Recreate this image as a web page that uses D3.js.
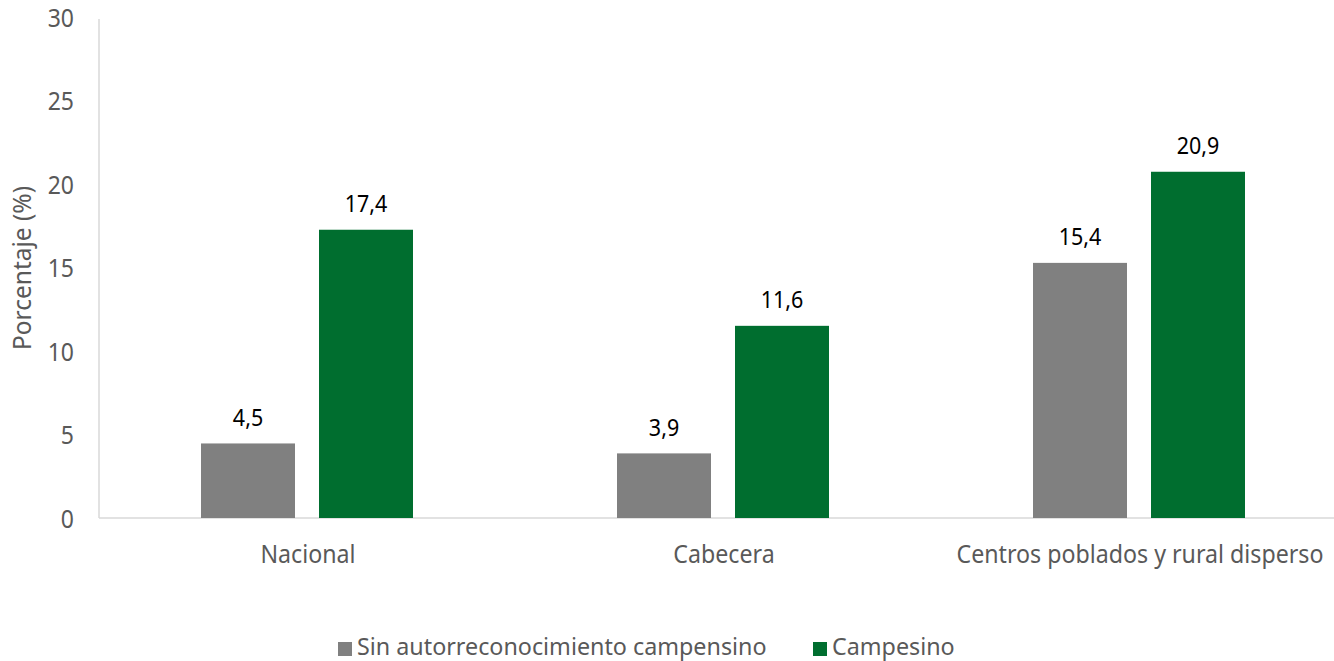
<!DOCTYPE html>
<html><head><meta charset="utf-8">
<script src="https://cdn.jsdelivr.net/npm/d3@7"></script>
<style>body{margin:0;background:#fff}svg{display:block}text{font-family:"Noto Sans","Open Sans",sans-serif}</style>
</head><body><svg id="c" width="1334" height="661"></svg>
<script>
const categories = ["Nacional", "Cabecera", "Centros poblados y rural disperso"];
const seriesNames = ["Sin autorreconocimiento campensino", "Campesino"];
const sinValues = [4.5, 3.9, 15.4];
const campesinoValues = [17.4, 11.6, 20.9];
const yTicks = [0, 5, 10, 15, 20, 25, 30];
const colors = ["#808080", "#006E2F"];

(function(){
const svg = d3.select("#c");
const mLeft = 99, mRight = 1347, mTop = 21, mBottom = 518;
const K = 1.08; // vertical stretch of text
const x0 = d3.scaleBand().domain(categories).range([mLeft, mRight]).padding(0);
const x1 = d3.scaleBand().domain(seriesNames).range([102, 314]).paddingInner(24/118).paddingOuter(0);
const y = d3.scaleLinear().domain([0, 30]).range([mBottom, mTop]);
const fmt = v => d3.format(".1f")(v).replace(".", ",");

svg.append("line").attr("x1", mLeft).attr("x2", mLeft).attr("y1", mTop - 2).attr("y2", mBottom).attr("stroke", "#d9d9d9").attr("stroke-width", 1.5);
svg.append("line").attr("x1", mLeft).attr("x2", 1334).attr("y1", mBottom).attr("y2", mBottom).attr("stroke", "#d9d9d9").attr("stroke-width", 1.5);

svg.selectAll(".yt").data(yTicks).enter().append("text")
  .attr("transform", d => `translate(74,${y(d) + 1 - d * 0.12 + 8.5}) scale(1,${K})`)
  .attr("text-anchor", "end")
  .attr("fill", "#595959").attr("font-size", 23).text(d => d);

svg.append("text").attr("transform", `translate(31,268) rotate(-90)`).attr("text-anchor", "middle")
  .attr("fill", "#595959").attr("font-size", 24.5).text("Porcentaje (%)");

svg.selectAll(".xt").data(categories).enter().append("text")
  .attr("transform", d => `translate(${x0(d) + x0.bandwidth() / 2 + 1},563) scale(1,${K})`)
  .attr("text-anchor", "middle")
  .attr("fill", "#595959").attr("font-size", 23.2).text(d => d);

const rows = categories.map((c, i) => ({ c, vals: [sinValues[i], campesinoValues[i]] }));
const g = svg.selectAll(".grp").data(rows).enter().append("g").attr("transform", d => `translate(${x0(d.c)},0)`);
g.selectAll("rect").data(d => d.vals.map((v, j) => ({ s: seriesNames[j], v, j }))).enter().append("rect")
  .attr("x", d => x1(d.s)).attr("width", x1.bandwidth())
  .attr("y", d => y(d.v)).attr("height", d => y(0) - y(d.v)).attr("fill", d => colors[d.j]);
g.selectAll(".lbl").data(d => d.vals.map((v, j) => ({ s: seriesNames[j], v, j }))).enter().append("text")
  .attr("transform", d => `translate(${x1(d.s) + x1.bandwidth() / 2},${y(d.v) - 17.5}) scale(1,${K})`)
  .attr("text-anchor", "middle")
  .attr("fill", "#000").attr("font-size", 21.5).text(d => fmt(d.v));

const legX = [338, 813];
const lg = svg.selectAll(".lg").data(seriesNames).enter().append("g").attr("transform", (d, i) => `translate(${legX[i]},642)`);
lg.append("rect").attr("width", 14).attr("height", 14).attr("fill", (d, i) => colors[i]);
lg.append("text").attr("transform", `translate(19,13)`).attr("fill", "#595959").attr("font-size", 23.3).text(d => d);
})();
</script></body></html>
